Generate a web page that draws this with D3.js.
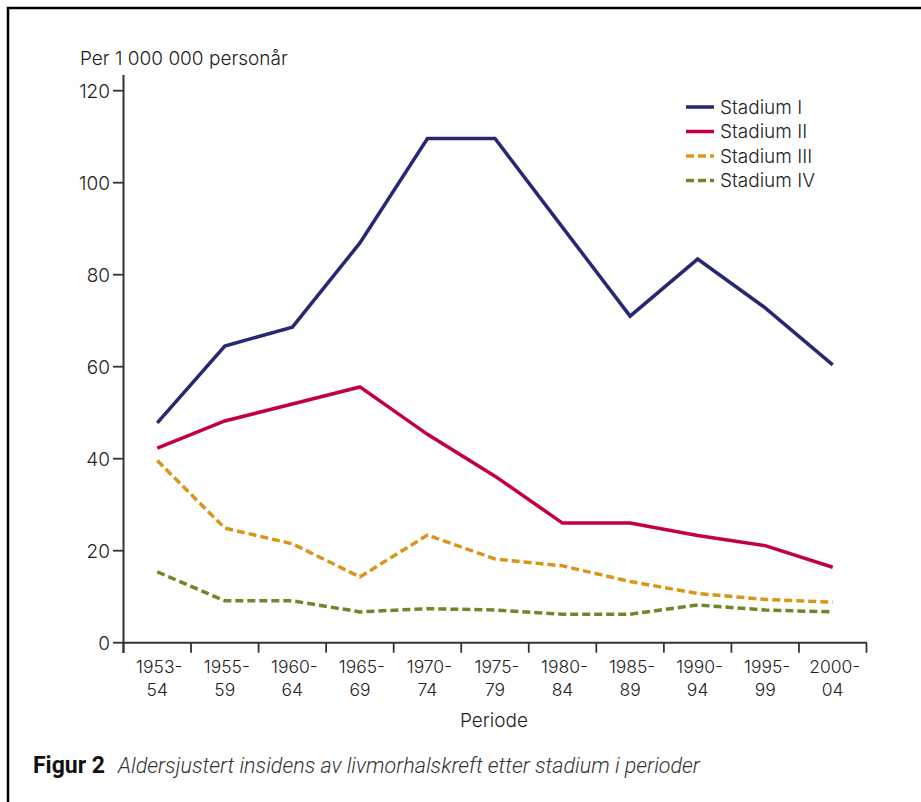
<!DOCTYPE html>
<html>
<head>
<meta charset="utf-8">
<script src="https://cdn.jsdelivr.net/npm/d3@7"></script>
<style>
  html, body { margin: 0; padding: 0; background: #fff; }
  svg { display: block; }
  .ax text, text.ax { font-family: Inter, "Open Sans", sans-serif; font-size: 17px; font-weight: 300; fill: #222; }
  .big { font-size: 19px !important; }
</style>
</head>
<body>
<script>
const periods = ["1953-54","1955-59","1960-64","1965-69","1970-74","1975-79","1980-84","1985-89","1990-94","1995-99","2000-04"];
const stadiumI   = [47.8, 64.5, 68.6, 86.9, 109.6, 109.6, 90.3, 71.0, 83.4, 72.8, 60.4];
const stadiumII  = [42.3, 48.2, 51.9, 55.6, 45.3, 36.2, 26.0, 26.0, 23.3, 21.1, 16.4];
const stadiumIII = [39.6, 24.9, 21.5, 14.3, 23.4, 18.2, 16.7, 13.3, 10.7, 9.4, 8.8];
const stadiumIV  = [15.4, 9.1, 9.1, 6.7, 7.4, 7.1, 6.2, 6.2, 8.2, 7.1, 6.7];
const seriesNames = ["Stadium I","Stadium II","Stadium III","Stadium IV"];
const yTicks = [0, 20, 40, 60, 80, 100, 120];

const W = 921, H = 802;
const svg = d3.select("body").append("svg").attr("width", W).attr("height", H);

// frame
svg.append("path").attr("d", "M8,802 L8,8 L921,8")
  .attr("fill", "none").attr("stroke", "#000").attr("stroke-width", 2.5);

const x = d3.scaleBand().domain(periods).range([123.5, 866.5]);
const y = d3.scaleLinear().domain([0, 120]).range([642.7, 90.7]);

const axisColor = "#333";

// y axis
const gy = svg.append("g").attr("class", "ax");
gy.append("line").attr("x1", 123.5).attr("x2", 123.5).attr("y1", 75).attr("y2", 653)
  .attr("stroke", axisColor).attr("stroke-width", 2);
yTicks.forEach(t => {
  gy.append("line").attr("x1", 113).attr("x2", 123.5).attr("y1", y(t)).attr("y2", y(t))
    .attr("stroke", axisColor).attr("stroke-width", 1.8);
  gy.append("text").attr("class", "big").attr("x", 110).attr("y", y(t)).attr("dy", "0.36em")
    .attr("text-anchor", "end").text(t);
});

// x axis
const gx = svg.append("g").attr("class", "ax");
gx.append("line").attr("x1", 122.5).attr("x2", 867).attr("y1", y(0)).attr("y2", y(0))
  .attr("stroke", axisColor).attr("stroke-width", 2);
const edges = periods.map(p => x(p)).concat([x(periods[periods.length-1]) + x.bandwidth()]);
edges.forEach(e => {
  gx.append("line").attr("x1", e).attr("x2", e).attr("y1", y(0)).attr("y2", y(0) + 10)
    .attr("stroke", axisColor).attr("stroke-width", 1.8);
});
periods.forEach(p => {
  const parts = p.split("-");
  const cx = x(p) + x.bandwidth() / 2;
  const t = gx.append("text").attr("text-anchor", "middle").style("font-size", "17.5px");
  t.append("tspan").attr("x", cx + 2).attr("y", 673).text(parts[0] + "-");
  t.append("tspan").attr("x", cx).attr("y", 696).text(parts[1]);
});
gx.append("text").attr("class", "big").attr("x", 494).attr("y", 727).attr("text-anchor", "middle").text("Periode");

// y title
svg.append("text").attr("class", "ax big").attr("x", 80).attr("y", 65)
  .text("Per 1 000 000 personår");

// series
const data = [stadiumI, stadiumII, stadiumIII, stadiumIV];
const colors = ["#272872", "#c4003b", "#d9951a", "#6f862b"];
const dashes = [null, null, "8,4", "8,4"];
const line = d3.line()
  .x((d, i) => x(periods[i]) + x.bandwidth() / 2)
  .y(d => y(d));
data.forEach((vals, k) => {
  svg.append("path").datum(vals)
    .attr("fill", "none").attr("stroke", colors[k]).attr("stroke-width", 3.5)
    .attr("stroke-dasharray", dashes[k]).attr("stroke-linejoin", "miter")
    .attr("d", line);
});

// legend
const lg = svg.append("g").attr("class", "ax");
seriesNames.forEach((n, k) => {
  const yy = 107 + k * 24.5;
  lg.append("line").attr("x1", 686).attr("x2", 714).attr("y1", yy).attr("y2", yy)
    .attr("stroke", colors[k]).attr("stroke-width", 3.5).attr("stroke-dasharray", dashes[k]);
  lg.append("text").attr("class", "big").attr("x", 720).attr("y", yy).attr("dy", "0.36em").text(n);
});

// caption
const cap = svg.append("text").attr("x", 33).attr("y", 773)
  .style("font-family", "Roboto, 'DejaVu Sans', sans-serif").style("font-size", "21.5px").style("fill", "#111");
cap.append("tspan").style("font-weight", "bold").style("font-size", "23px").text("Figur 2");
cap.append("tspan").attr("x", 118).style("font-style", "italic").style("font-weight", "300")
  .style("fill", "#333").text("Aldersjustert insidens av livmorhalskreft etter stadium i perioder");
</script>
</body>
</html>
